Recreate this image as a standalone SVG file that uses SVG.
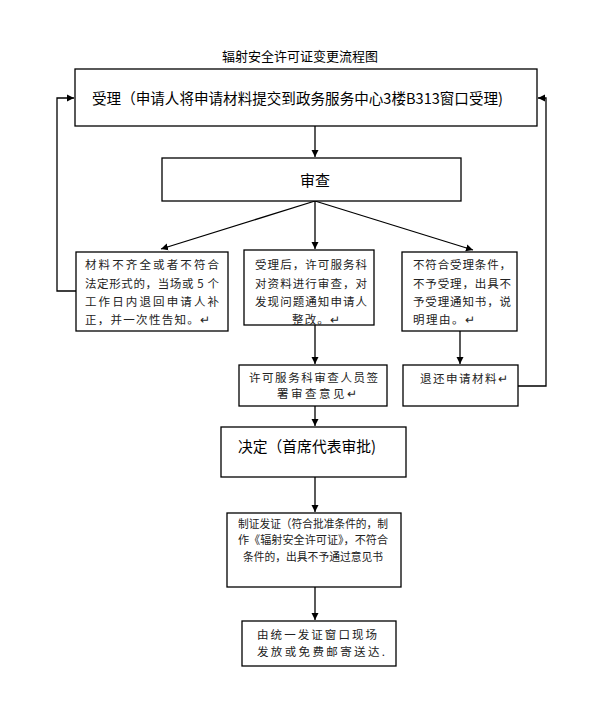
<svg xmlns="http://www.w3.org/2000/svg" width="592" height="707" viewBox="0 0 592 707">
<style>
.box{fill:#fff;stroke:#000;stroke-width:1.3}
.t{font-family:"Noto Sans CJK SC","Liberation Sans",sans-serif;fill:#000}
.s{font-family:"Noto Sans CJK SC","Liberation Sans",sans-serif;fill:#222;font-size:11.5px}
.c{fill:none;stroke:#000;stroke-width:1.3}
</style>
<defs>
<marker id="ah" markerWidth="8" markerHeight="8" refX="7" refY="4" orient="auto" markerUnits="userSpaceOnUse">
<path d="M0,0.5 L7,4 L0,7.5 Z" fill="#000"/>
</marker>
</defs>
<rect width="592" height="707" fill="#fff"/>
<text class="t" x="300" y="61" font-size="13" text-anchor="middle">辐射安全许可证变更流程图</text>
<g id="connectors">
<line class="c" x1="315" y1="126" x2="315" y2="157" marker-end="url(#ah)"/>
<line class="c" x1="315" y1="201" x2="161" y2="249" marker-end="url(#ah)"/>
<line class="c" x1="315" y1="201" x2="315" y2="249" marker-end="url(#ah)"/>
<line class="c" x1="315" y1="201" x2="473" y2="250" marker-end="url(#ah)"/>
<line class="c" x1="315" y1="325" x2="315" y2="364" marker-end="url(#ah)"/>
<line class="c" x1="460" y1="331" x2="460" y2="364" marker-end="url(#ah)"/>
<line class="c" x1="315" y1="406" x2="315" y2="426" marker-end="url(#ah)"/>
<line class="c" x1="315" y1="477" x2="315" y2="512" marker-end="url(#ah)"/>
<line class="c" x1="315" y1="587" x2="315" y2="620" marker-end="url(#ah)"/>
<polyline class="c" points="76,291 57,291 57,98 74,98" marker-end="url(#ah)"/>
<polyline class="c" points="518,386 546,386 546,98 538,98" marker-end="url(#ah)"/>
</g>
<g id="n1">
<rect class="box" x="75" y="69" width="462" height="57"/>
<text class="t" x="92" y="104" font-size="15" textLength="411" lengthAdjust="spacingAndGlyphs">受理（申请人将申请材料提交到政务服务中心3楼B313窗口受理)</text>
</g>
<g id="n2">
<rect class="box" x="162" y="158" width="299" height="43" stroke-width="2"/>
<text class="t" x="315" y="186" font-size="15" text-anchor="middle">审查</text>
</g>
<g id="n3a">
<rect class="box" x="76" y="252" width="152" height="79"/>
<text class="s" x="85" y="269" textLength="134">材料不齐全或者不符合</text>
<text class="s" x="85" y="288" textLength="134">法定形式的，当场或 5 个</text>
<text class="s" x="85" y="306" textLength="134">工作日内退回申请人补</text>
<text class="s" x="85" y="324" textLength="125">正，并一次性告知。↵</text>
</g>
<g id="n3b">
<rect class="box" x="244" y="250" width="130" height="75"/>
<text class="s" x="255" y="269" textLength="112">受理后，许可服务科</text>
<text class="s" x="255" y="288" textLength="112">对资料进行审查，对</text>
<text class="s" x="255" y="306" textLength="112">发现问题通知申请人</text>
<text class="s" x="292" y="324" textLength="48">整改。↵</text>
</g>
<g id="n3c">
<rect class="box" x="402" y="252" width="115" height="79"/>
<text class="s" x="413" y="269" textLength="98">不符合受理条件，</text>
<text class="s" x="413" y="288" textLength="98">不予受理，出具不</text>
<text class="s" x="413" y="306" textLength="98">予受理通知书，说</text>
<text class="s" x="413" y="324" textLength="62">明理由。↵</text>
</g>
<g id="n4b">
<rect class="box" x="239" y="365" width="148" height="41"/>
<text class="s" x="249" y="382" textLength="129">许可服务科审查人员签</text>
<text class="s" x="277" y="398" textLength="80">署审查意见↵</text>
</g>
<g id="n4c">
<rect class="box" x="403" y="365" width="115" height="41"/>
<text class="s" x="420" y="383" textLength="88">退还申请材料↵</text>
</g>
<g id="n5">
<rect class="box" x="221" y="427" width="185" height="50"/>
<text class="t" x="238" y="452" font-size="15" textLength="138" lengthAdjust="spacingAndGlyphs">决定（首席代表审批)</text>
</g>
<g id="n6">
<rect class="box" x="227" y="513" width="174" height="74"/>
<text class="s" x="238" y="528" font-size="11" textLength="150" lengthAdjust="spacingAndGlyphs">制证发证（符合批准条件的，制</text>
<text class="s" x="238" y="544" font-size="11" textLength="150" lengthAdjust="spacingAndGlyphs">作《辐射安全许可证》，不符合</text>
<text class="s" x="243" y="561" font-size="11" textLength="140" lengthAdjust="spacingAndGlyphs">条件的，出具不予通过意见书</text>
</g>
<g id="n7">
<rect class="box" x="242" y="621" width="154" height="45"/>
<text class="s" x="257" y="639" textLength="120">由统一发证窗口现场</text>
<text class="s" x="257" y="656" textLength="128">发放或免费邮寄送达.</text>
</g>
</svg>
